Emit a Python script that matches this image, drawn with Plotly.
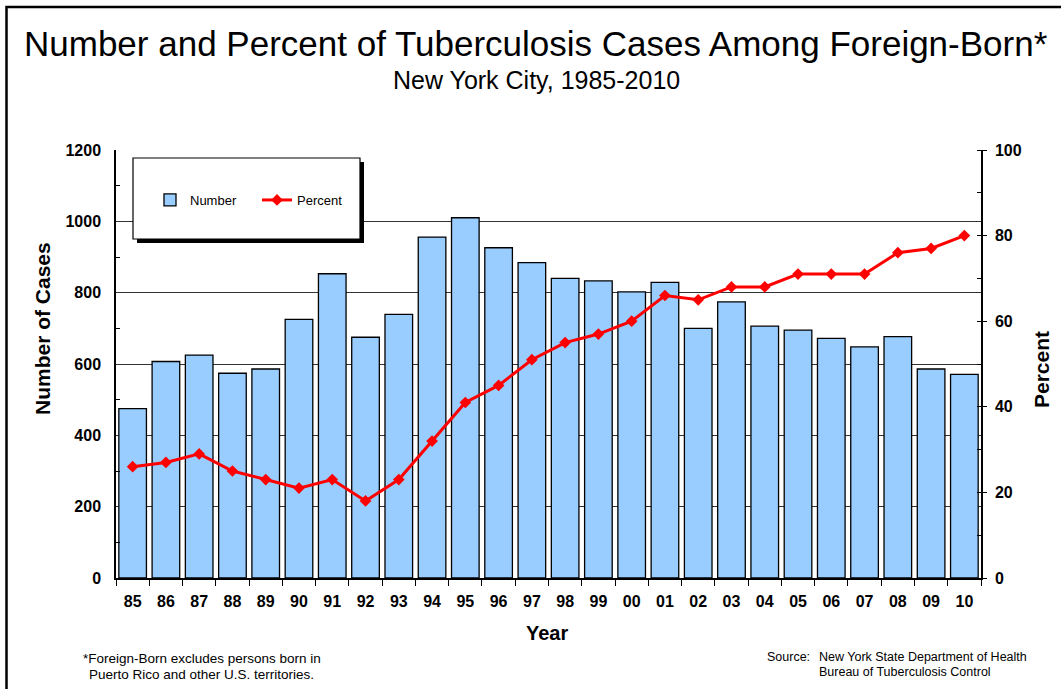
import plotly.graph_objects as go

# NYC TB cases among foreign-born, 1985-2010
years = ['85', '86', '87', '88', '89', '90', '91', '92', '93', '94', '95', '96', '97',
         '98', '99', '00', '01', '02', '03', '04', '05', '06', '07', '08', '09', '10']
number_cases = [475, 607, 625, 574, 586, 725, 853, 675, 739, 956, 1010, 926, 884,
                840, 833, 802, 829, 700, 774, 706, 695, 672, 648, 677, 586, 571]
percent_fb = [26, 27, 29, 25, 23, 21, 23, 18, 23, 32, 41, 45, 51,
              55, 57, 60, 66, 65, 68, 68, 71, 71, 71, 76, 77, 80]

FONT = 'Arial, Liberation Sans, sans-serif'

# plot area in pixels: x 116..981, y 150..578
L, R, T, B = 116, 981, 150, 578


def px_x(px):
    return (px - L) / (R - L)


def px_y(py):
    return (B - py) / (B - T)


fig = go.Figure()
fig.add_trace(go.Bar(x=years, y=number_cases, name='Number',
                     marker=dict(color='#99CCFF', line=dict(color='black', width=1.3))))
fig.add_trace(go.Scatter(x=years, y=percent_fb, name='Percent', yaxis='y2',
                         mode='lines+markers',
                         line=dict(color='#FF0000', width=3),
                         marker=dict(symbol='diamond', size=9, color='#FF0000')))

fig.update_layout(
    width=1061, height=689,
    margin=dict(l=L, r=1061 - R, t=T, b=689 - B),
    paper_bgcolor='white', plot_bgcolor='white',
    bargap=0.17,
    font=dict(family=FONT, color='black'),
    showlegend=True,
    legend=dict(orientation='h', x=px_x(150), y=px_y(200), xanchor='left', yanchor='middle',
                bgcolor='rgba(0,0,0,0)', borderwidth=0, font=dict(size=13),
                entrywidth=62, entrywidthmode='pixels'),
    xaxis=dict(type='category', range=[-0.5, len(years) - 0.5],
               showline=True, linecolor='black', linewidth=1.5,
               ticks='outside', ticklen=6, tickcolor='black', tickson='boundaries',
               ticklabelstandoff=8,
               tickfont=dict(size=16, family=FONT, weight='bold'), showgrid=False),
    yaxis=dict(range=[0, 1200], dtick=200, showline=True, linecolor='black', linewidth=1.5,
               showgrid=True, gridcolor='#333333', gridwidth=1,
               ticks='', ticklabelstandoff=10,
               tickfont=dict(size=16, family=FONT, weight='bold'),
               minor=dict(dtick=100, ticks='inside', ticklen=4, tickcolor='black', showgrid=False),
               zeroline=False),
    yaxis2=dict(range=[0, 100], dtick=20, overlaying='y', side='right', showline=True,
                linecolor='black', linewidth=1.5, showgrid=False, zeroline=False,
                ticks='outside', ticklen=4, tickcolor='black', ticklabelstandoff=5,
                tickfont=dict(size=16, family=FONT, weight='bold'),
                minor=dict(dtick=10, ticks='inside', ticklen=4, tickcolor='black')),
)

shapes = [
    # outer frame
    dict(type='rect', xref='paper', yref='paper', x0=px_x(6.5), x1=px_x(1080),
         y0=px_y(7), y1=px_y(720), line=dict(color='black', width=2.5)),
    # legend box shadow and box
    dict(type='rect', xref='paper', yref='paper', x0=px_x(137), x1=px_x(364),
         y0=px_y(243), y1=px_y(162), fillcolor='black', line=dict(width=0), layer='above'),
    dict(type='rect', xref='paper', yref='paper', x0=px_x(133), x1=px_x(360),
         y0=px_y(239), y1=px_y(158), fillcolor='white', line=dict(color='black', width=1.2),
         layer='above'),
]
fig.update_layout(shapes=shapes)


def note(text, x, y, size, xanchor='center', bold=False, angle=0):
    fig.add_annotation(text=text, xref='paper', yref='paper', x=px_x(x), y=px_y(y),
                       xanchor=xanchor, yanchor='middle', showarrow=False, textangle=angle,
                       font=dict(size=size, family=FONT, color='black',
                                 weight='bold' if bold else 'normal'))


note('Number and Percent of Tuberculosis Cases Among Foreign-Born*', 536, 44, 35)
note('New York City, 1985-2010', 536, 80, 25)
note('Number of Cases', 42, 329, 21, bold=True, angle=-90)
note('Percent', 1041, 370, 21, bold=True, angle=-90)
note('Year', 547, 633, 20, bold=True)
note('*Foreign-Born excludes persons born in', 202, 658, 13.5)
note('Puerto Rico and other U.S. territories.', 201, 674, 13.5)
note('Source:', 765, 657, 12.5, xanchor='left')
note('New York State Department of Health', 817, 657, 12.5, xanchor='left')
note('Bureau of Tuberculosis Control', 817, 672, 12.5, xanchor='left')

# page body has an 8px default margin; remove it so the figure sits at 0,0
fig.write_html('out.html', config={'displayModeBar': False},
               post_script="document.body.style.margin='0px';")
